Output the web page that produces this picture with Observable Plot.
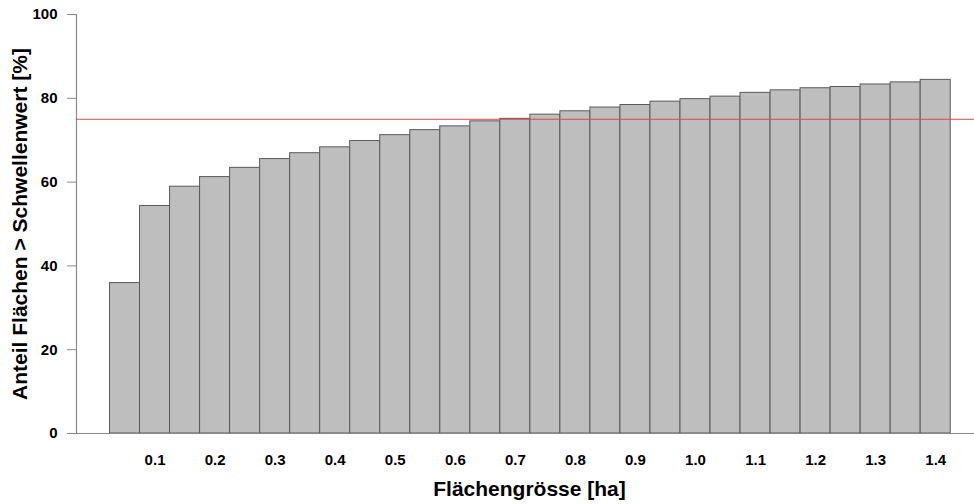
<!DOCTYPE html>
<html>
<head>
<meta charset="utf-8">
<script src="https://cdn.jsdelivr.net/npm/d3@7"></script>
<script src="https://cdn.jsdelivr.net/npm/@observablehq/plot@0.6"></script>
<style>
  html, body { margin: 0; padding: 0; background: #fff; }
  #chart svg { display: block; }
</style>
</head>
<body>
<div id="chart"></div>
<script>
// Area classes (ha) — bar centres
const areas = [0.05, 0.10, 0.15, 0.20, 0.25, 0.30, 0.35, 0.40, 0.45, 0.50,
               0.55, 0.60, 0.65, 0.70, 0.75, 0.80, 0.85, 0.90, 0.95, 1.00,
               1.05, 1.10, 1.15, 1.20, 1.25, 1.30, 1.35, 1.40];
// Share of areas above threshold (%)
const shares = [35.9, 54.3, 58.9, 61.2, 63.4, 65.5, 66.9, 68.3, 69.8, 71.2,
                72.4, 73.3, 74.5, 75.1, 76.1, 76.9, 77.8, 78.4, 79.2, 79.8,
                80.4, 81.3, 81.9, 82.4, 82.7, 83.3, 83.8, 84.4];
const barWidth = 0.05;
const threshold = [75];
const xTicks = [0.1, 0.2, 0.3, 0.4, 0.5, 0.6, 0.7, 0.8, 0.9, 1.0, 1.1, 1.2, 1.3, 1.4];
const yTicks = [0, 20, 40, 60, 80, 100];
const xTitle = "Flächengrösse [ha]";
const yTitle = "Anteil Flächen > Schwellenwert [%]";

const data = areas.map((a, i) => ({x1: a - barWidth / 2, x2: a + barWidth / 2, y: shares[i]}));
const xDomain = [-0.0308, 1.4646];

const font = "'Liberation Sans', Arial, sans-serif";

const chart = Plot.plot({
  width: 974,
  height: 504,
  marginLeft: 76,
  marginRight: 0,
  marginTop: 14,
  marginBottom: 71,
  style: {fontFamily: font, background: "#fff", overflow: "visible"},
  x: {type: "linear", domain: xDomain},
  y: {domain: [0, 100]},
  marks: [
    Plot.rectY(data, {x1: "x1", x2: "x2", y: "y", fill: "#bebebe", stroke: "#5a5a5a", strokeWidth: 1}),
    Plot.ruleY([0], {stroke: "#8a8a8a", strokeWidth: 1.2}),
    Plot.ruleX([xDomain[0]], {y1: 0, y2: 100, stroke: "#8a8a8a", strokeWidth: 1.2}),
    Plot.ruleY(threshold, {stroke: "#e04848", strokeWidth: 1}),
    Plot.axisY({ticks: yTicks, tickSize: 9, tickPadding: 10, stroke: "#8a8a8a",
      fontSize: 15, fontWeight: "bold", fill: "#000", label: null, tickFormat: d => String(d)}),
    Plot.axisX({ticks: xTicks, tickSize: 0, tickPadding: 21, fontSize: 15, fontWeight: "bold",
      fill: "#000", label: null, tickFormat: d => d.toFixed(1)}),
    Plot.text([xTitle], {frameAnchor: "bottom", dy: 56, dx: 4, text: d => d, fontSize: 21,
      fontWeight: "bold", fill: "#000", lineAnchor: "middle", textAnchor: "middle"}),
    Plot.text([yTitle], {frameAnchor: "left", dx: -56, rotate: -90, text: d => d, fontSize: 21,
      fontWeight: "bold", fill: "#000", lineAnchor: "middle", textAnchor: "middle"})
  ]
});
document.getElementById("chart").appendChild(chart);
</script>
</body>
</html>
